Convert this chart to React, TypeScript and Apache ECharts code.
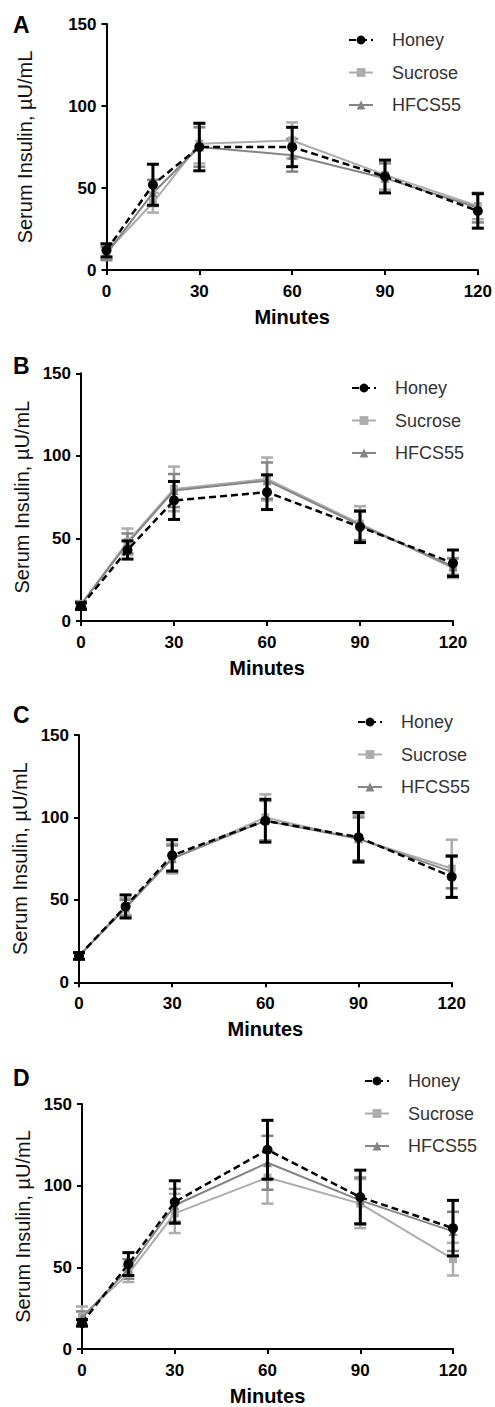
import React, { useEffect, useRef } from "react";
import * as echarts from "echarts";

const minutes = [0, 15, 30, 60, 90, 120];
const seriesNames = ["Honey", "Sucrose", "HFCS55"];
const panelLabels = ["A", "B", "C", "D"];
const xTickInterval = 30;
const yTickInterval = 50;
const yMax = 150;
const xMax = 120;
const xAxisTitle = "Minutes";
const yAxisTitle = "Serum Insulin, µU/mL";

// Panel A
const honeyA = [12, 52, 75, 75, 57, 36];
const honeyErrA = [4, 12.5, 14.5, 12, 10, 10.5];
const sucroseA = [11, 41, 77, 79, 58, 39];
const sucroseErrA = [4, 6, 12, 11, 9, 8];
const hfcsA = [10, 47, 75, 70, 56, 38];
const hfcsErrA = [4, 8, 12, 10, 9, 9];

// Panel B
const honeyB = [9, 43, 73, 78, 57, 35];
const honeyErrB = [2, 5.5, 11.5, 10.5, 9.5, 8];
const sucroseB = [10, 48, 80, 86, 59, 32];
const sucroseErrB = [2, 8, 13.5, 13, 10.5, 6];
const hfcsB = [10, 47, 79, 85, 58, 33];
const hfcsErrB = [2, 6, 10, 11, 9, 5];

// Panel C
const honeyC = [16, 46, 77, 98, 88, 64];
const honeyErrC = [2, 7, 9.5, 13, 15, 12.5];
const sucroseC = [16, 46, 75, 100, 87, 69];
const sucroseErrC = [2, 5, 9, 14, 14.5, 17.5];
const hfcsC = [16, 45, 75, 98, 87, 67];
const hfcsErrC = [2, 5, 8, 12, 13, 10];

// Panel D
const honeyD = [16, 52, 90, 122, 93, 74];
const honeyErrD = [2, 7, 13, 18, 16.5, 17];
const sucroseD = [20, 46, 83, 105, 89, 55];
const sucroseErrD = [6, 5, 12, 16, 15, 10];
const hfcsD = [19, 49, 88, 114, 91, 72];
const hfcsErrD = [4, 6, 10, 16.5, 14, 12];

const panelData = [
  { honey: honeyA, honeyErr: honeyErrA, sucrose: sucroseA, sucroseErr: sucroseErrA, hfcs: hfcsA, hfcsErr: hfcsErrA },
  { honey: honeyB, honeyErr: honeyErrB, sucrose: sucroseB, sucroseErr: sucroseErrB, hfcs: hfcsB, hfcsErr: hfcsErrB },
  { honey: honeyC, honeyErr: honeyErrC, sucrose: sucroseC, sucroseErr: sucroseErrC, hfcs: hfcsC, hfcsErr: hfcsErrC },
  { honey: honeyD, honeyErr: honeyErrD, sucrose: sucroseD, sucroseErr: sucroseErrD, hfcs: hfcsD, hfcsErr: hfcsErrD },
];

// Layout (positions / sizes only)
const layouts = [
  { grid: { left: 106.5, top: 24, width: 371.5, height: 246 }, label: { x: 13, y: 25 }, legend: { left: 343, top: 26 }, yGap: 72 },
  { grid: { left: 81, top: 373.3, width: 372, height: 247.7 }, label: { x: 13, y: 366 }, legend: { left: 346, top: 374 }, yGap: 47 },
  { grid: { left: 79, top: 735, width: 372.7, height: 247.3 }, label: { x: 13, y: 715 }, legend: { left: 352, top: 708 }, yGap: 45 },
  { grid: { left: 82, top: 1104, width: 371, height: 246.7 }, label: { x: 13, y: 1078 }, legend: { left: 359, top: 1067 }, yGap: 48 },
];

const FONT = "'Liberation Sans', Arial, sans-serif";
const HONEY_COLOR = "#000000";
const SUCROSE_COLOR = "#acacac";
const HFCS_COLOR = "#858585";

function errorSeries(values: number[], errs: number[], idx: number, color: string, width: number, z: number) {
  return {
    type: "custom",
    xAxisIndex: idx,
    yAxisIndex: idx,
    silent: true,
    z,
    encode: { x: 0, y: [1, 2] },
    data: minutes.map((m, i) => [m, values[i] - errs[i], values[i] + errs[i]]),
    renderItem: (params: any, api: any) => {
      const x = api.value(0);
      const lo = api.coord([x, api.value(1)]);
      const hi = api.coord([x, api.value(2)]);
      const hw = 6;
      const style = { stroke: color, lineWidth: width };
      return {
        type: "group",
        children: [
          { type: "line", shape: { x1: lo[0], y1: lo[1], x2: hi[0], y2: hi[1] }, style },
          { type: "line", shape: { x1: lo[0] - hw, y1: lo[1], x2: lo[0] + hw, y2: lo[1] }, style },
          { type: "line", shape: { x1: hi[0] - hw, y1: hi[1], x2: hi[0] + hw, y2: hi[1] }, style },
        ],
      };
    },
  };
}

function buildOption() {
  const grid: any[] = [];
  const xAxis: any[] = [];
  const yAxis: any[] = [];
  const legend: any[] = [];
  const series: any[] = [];
  const graphic: any[] = [];

  panelData.forEach((p, i) => {
    const L = layouts[i];
    grid.push({ ...L.grid, containLabel: false });
    xAxis.push({
      type: "value",
      gridIndex: i,
      min: 0,
      max: xMax,
      interval: xTickInterval,
      name: xAxisTitle,
      nameLocation: "middle",
      nameGap: 37,
      nameTextStyle: { fontFamily: FONT, fontWeight: "bold", fontSize: 20, color: "#000" },
      axisLine: { lineStyle: { color: "#000", width: 2 } },
      axisTick: { length: 5, lineStyle: { color: "#000", width: 2 } },
      axisLabel: { fontFamily: FONT, fontWeight: "bold", fontSize: 17, color: "#000", margin: 12.5 },
      splitLine: { show: false },
    });
    yAxis.push({
      type: "value",
      gridIndex: i,
      min: 0,
      max: yMax,
      interval: yTickInterval,
      name: yAxisTitle,
      nameLocation: "middle",
      nameGap: L.yGap,
      nameTextStyle: { fontFamily: FONT, fontSize: 20, color: "#111" },
      axisLine: { show: true, lineStyle: { color: "#000", width: 2 } },
      axisTick: { show: true, length: 5, lineStyle: { color: "#000", width: 2 } },
      axisLabel: { fontFamily: FONT, fontWeight: "bold", fontSize: 17, color: "#000", margin: 10 },
      splitLine: { show: false },
    });
    legend.push({
      orient: "vertical",
      left: L.legend.left,
      top: L.legend.top,
      itemWidth: 24,
      itemHeight: 11,
      itemGap: 14.5,
      data: seriesNames,
      selectedMode: false,
      textStyle: { fontFamily: FONT, fontSize: 18, lineHeight: 18, color: "#333", padding: [0, 0, 0, 14] },
    });
    graphic.push({
      type: "text",
      left: L.label.x,
      top: L.label.y - 12,
      style: { text: panelLabels[i], font: `bold 23px ${FONT}`, fill: "#000" },
    });

    // gray series first (below), honey on top
    series.push({
      type: "line",
      name: "Sucrose",
      xAxisIndex: i,
      yAxisIndex: i,
      data: minutes.map((m, k) => [m, p.sucrose[k]]),
      symbol: "rect",
      symbolSize: 8,
      lineStyle: { color: SUCROSE_COLOR, width: 2 },
      itemStyle: { color: SUCROSE_COLOR },
      z: 2,
    });
    series.push({
      type: "line",
      name: "HFCS55",
      xAxisIndex: i,
      yAxisIndex: i,
      data: minutes.map((m, k) => [m, p.hfcs[k]]),
      symbol: "triangle",
      symbolSize: 9,
      lineStyle: { color: HFCS_COLOR, width: 2 },
      itemStyle: { color: HFCS_COLOR },
      z: 3,
    });
    series.push({
      type: "line",
      name: "Honey",
      xAxisIndex: i,
      yAxisIndex: i,
      data: minutes.map((m, k) => [m, p.honey[k]]),
      symbol: "circle",
      symbolSize: 10,
      lineStyle: { color: HONEY_COLOR, width: 2.5, type: [7, 4] },
      itemStyle: { color: HONEY_COLOR },
      z: 5,
    });
    series.push(errorSeries(p.sucrose, p.sucroseErr, i, SUCROSE_COLOR, 2.5, 1));
    series.push(errorSeries(p.hfcs, p.hfcsErr, i, HFCS_COLOR, 2.5, 1));
    series.push(errorSeries(p.honey, p.honeyErr, i, HONEY_COLOR, 3, 4));
  });

  return {
    animation: false,
    backgroundColor: "#ffffff",
    grid,
    xAxis,
    yAxis,
    legend,
    series,
    graphic,
  };
}

export default function App() {
  const ref = useRef<HTMLDivElement>(null);
  useEffect(() => {
    document.body.style.margin = "0";
    if (!ref.current) return;
    const chart = echarts.init(ref.current, null, { renderer: "svg" });
    chart.setOption(buildOption() as any);
    return () => chart.dispose();
  }, []);
  return <div ref={ref} style={{ width: 495, height: 1407 }} />;
}
